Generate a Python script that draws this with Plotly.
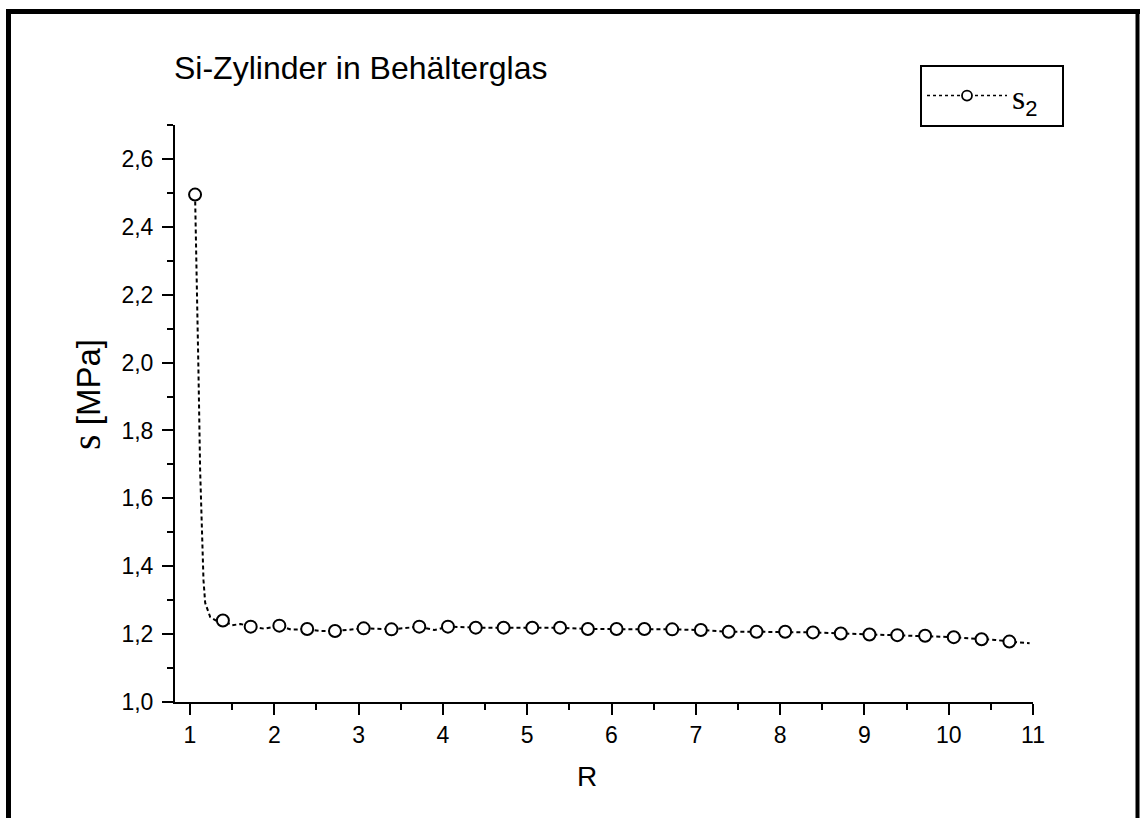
import plotly.graph_objects as go

# page geometry (px) of the reference
W, H = 1140, 818
L, R, T, B = 175, 107, 125, 116

# marker positions (every 1/3 in R)
r_markers = [1.06, 1.39, 1.72, 2.06, 2.39, 2.72, 3.06, 3.39, 3.72, 4.06,
             4.39, 4.72, 5.06, 5.39, 5.72, 6.06, 6.39, 6.72, 7.06, 7.39,
             7.72, 8.06, 8.39, 8.72, 9.06, 9.39, 9.72, 10.06, 10.39, 10.72]
s_markers = [2.495, 1.240, 1.222, 1.225, 1.215, 1.209, 1.217, 1.214, 1.222, 1.222,
             1.219, 1.219, 1.219, 1.219, 1.215, 1.215, 1.215, 1.214, 1.212, 1.207,
             1.207, 1.207, 1.205, 1.202, 1.199, 1.197, 1.195, 1.191, 1.185, 1.178]

# the curve itself (denser near the steep drop)
r_curve = [1.06, 1.08, 1.10, 1.12, 1.14, 1.16, 1.18, 1.24, 1.32, 1.39,
           1.50, 1.60, 1.72, 1.88, 2.06, 2.20, 2.39, 2.55, 2.72, 2.90,
           3.06, 3.39, 3.55, 3.72, 3.90, 4.06, 4.39, 4.72, 5.06, 5.39,
           5.72, 6.06, 6.39, 6.72, 7.06, 7.39, 7.72, 8.06, 8.39, 8.72,
           9.06, 9.39, 9.72, 10.06, 10.39, 10.55, 10.72, 10.96]
s_curve = [2.495, 2.273, 1.978, 1.684, 1.486, 1.359, 1.292, 1.250, 1.238, 1.240,
           1.226, 1.230, 1.222, 1.216, 1.225, 1.213, 1.215, 1.209, 1.209, 1.214,
           1.217, 1.214, 1.218, 1.222, 1.212, 1.222, 1.219, 1.219, 1.219, 1.219,
           1.215, 1.215, 1.215, 1.214, 1.212, 1.207, 1.207, 1.207, 1.205, 1.202,
           1.199, 1.197, 1.195, 1.191, 1.185, 1.183, 1.178, 1.173]

x_range = [0.822, 11.0]
y_range = [1.0, 2.7]

SANS = "Liberation Sans, Arial"
SERIF_SPAN = "<span style=\"font-family:Liberation Serif; font-size:{}px\">s</span>"

fig = go.Figure()
fig.add_trace(go.Scatter(
    x=r_curve, y=s_curve, mode="lines", showlegend=False,
    line=dict(color="black", width=2, dash="4px,3px"),
))
fig.add_trace(go.Scatter(
    x=r_markers, y=s_markers, mode="markers", showlegend=False,
    marker=dict(symbol="circle", size=12, color="white",
                line=dict(color="black", width=2)),
))
# legend entry: dotted line with open circle
fig.add_trace(go.Scatter(
    x=[None], y=[None], mode="lines+markers",
    name=SERIF_SPAN.format(34) + "<sub><span style=\"font-size:22px\">2</span></sub>&nbsp;&nbsp;",
    line=dict(color="black", width=1.5, dash="dot"),
    marker=dict(symbol="circle", size=10, color="white",
                line=dict(color="black", width=1.8)),
))


def px_x(px):
    return (px - L) / (W - L - R)


def px_y(py):
    return (H - B - py) / (H - T - B)


frame = dict(type="line", xref="paper", yref="paper")
shapes = [
    dict(frame, x0=px_x(8.5), x1=px_x(8.5), y0=px_y(9), y1=px_y(H + 5), line=dict(color="black", width=5)),
    dict(frame, x0=px_x(6), x1=px_x(W + 5), y0=px_y(11.5), y1=px_y(11.5), line=dict(color="black", width=5)),
    dict(frame, x0=px_x(1137.5), x1=px_x(1137.5), y0=px_y(9), y1=px_y(H + 5), line=dict(color="black", width=4)),
]

axis_common = dict(
    showline=True, linecolor="black", linewidth=2, mirror=False,
    ticks="outside", ticklen=11, tickwidth=2, tickcolor="black",
    showgrid=False, zeroline=False,
    tickfont=dict(family=SANS, size=23, color="black"),
)

texts = [
    dict(text="Si-Zylinder in Behälterglas", x=px_x(172), y=px_y(68),
         xanchor="left", yanchor="middle", font=dict(family=SANS, size=32, color="black")),
    dict(text="R", x=px_x(587), y=px_y(776), xanchor="center", yanchor="middle",
         font=dict(family=SANS, size=28, color="black")),
    dict(text=SERIF_SPAN.format(40) + " [MPa]", x=px_x(86), y=px_y(395), textangle=-90,
         xanchor="center", yanchor="middle", font=dict(family=SANS, size=33, color="black")),
]

fig.update_layout(
    width=W, height=H,
    margin=dict(l=L, r=R, t=T, b=B),
    paper_bgcolor="white", plot_bgcolor="white",
    separators=",.",
    showlegend=True,
    legend=dict(
        x=px_x(920), y=px_y(65), xanchor="left", yanchor="top",
        bordercolor="black", borderwidth=2, bgcolor="white",
        font=dict(family=SANS, size=34, color="black"),
        itemwidth=80, tracegroupgap=0,
    ),
    shapes=shapes,
    annotations=[dict(t, xref="paper", yref="paper", showarrow=False) for t in texts],
    xaxis=dict(
        axis_common, range=x_range, tick0=0, dtick=1,
        minor=dict(dtick=0.5, ticklen=6, tickwidth=2, ticks="outside", tickcolor="black"),
    ),
    yaxis=dict(
        axis_common, range=y_range, tick0=1.0, dtick=0.2, tickformat=".1f",
        minor=dict(dtick=0.1, ticklen=6, tickwidth=2, ticks="outside", tickcolor="black"),
        ticklabelstandoff=4,
    ),
)

fig.write_html(
    "out.html",
    config={"displayModeBar": False},
    post_script="document.body.style.margin='0';document.body.style.overflow='hidden';",
)
